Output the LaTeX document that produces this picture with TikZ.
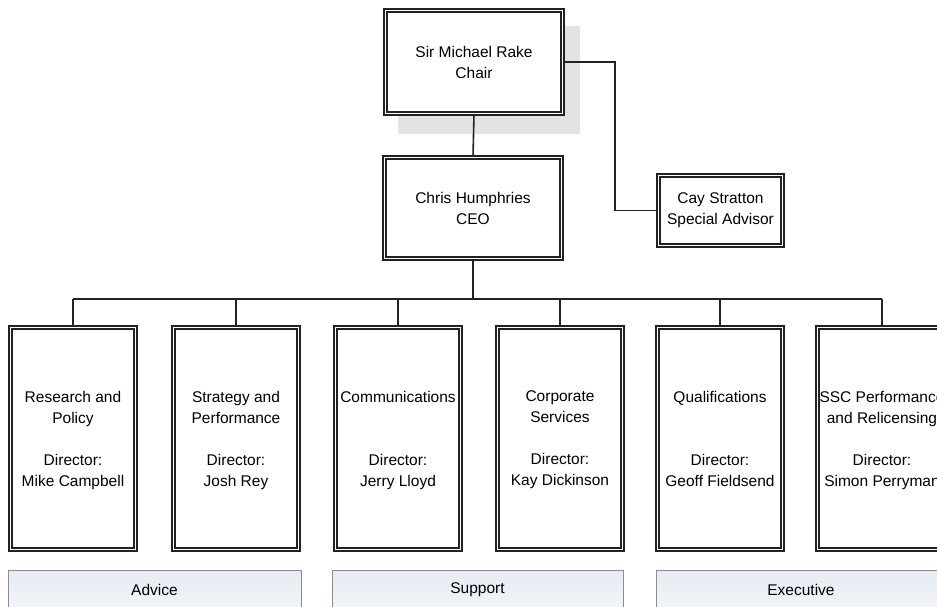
\documentclass[tikz,border=0pt]{standalone}
\usepackage{fontspec}
\setmainfont{Liberation Sans}
\usetikzlibrary{positioning}
\definecolor{linegray}{HTML}{222222}
\definecolor{bandfill}{HTML}{E6ECF3}
\definecolor{bandline}{HTML}{8C8C8C}
\begin{document}
\begin{tikzpicture}[x=1pt, y=-1pt,
    box/.style={draw=linegray, double=white, double distance=1.8pt, line width=1.5pt,
        fill=white, inner sep=2pt, align=center, font=\fontsize{15.5}{21}\selectfont},
    dept/.style={box, minimum width=125, minimum height=222},
    band/.style={draw=bandline, line width=0.9pt, top color=bandfill, bottom color=bandfill!55!white,
        minimum height=40, font=\fontsize{15.5}{21}\selectfont},
    link/.style={draw=linegray, line width=1.6pt}]
    \useasboundingbox (0,0) rectangle (937,607);
    \clip (0,0) rectangle (937,607);
    % Chair with shadow
    \fill[black!11] (398,26) rectangle (580,134);
    \node[box, minimum width=177, minimum height=103] (chair) at (474,62) {Sir Michael Rake\\Chair};
    % CEO and special advisor
    \node[box, minimum width=177, minimum height=101] (ceo) at (473,208) {Chris Humphries\\CEO};
    \node[box, minimum width=124, minimum height=70] (cay) at (720.5,210.5) {Cay Stratton\\Special Advisor};
    \draw[link] (chair.south) -- (ceo.north);
    \draw[link] (chair.east) -- ++(52,0) |- (cay.west);
    % Directorates
    \foreach \x/\name/\txt in {
        73/rp/{Research and\\Policy\\[21pt]Director:\\Mike Campbell},
        236/sp/{Strategy and\\Performance\\[21pt]Director:\\Josh Rey},
        398/com/{Communications\\[42pt]Director:\\Jerry Lloyd},
        560/cs/{Corporate\\Services\\[21pt]Director:\\Kay Dickinson},
        720/qual/{Qualifications\\[42pt]Director:\\Geoff Fieldsend},
        882/ssc/{SSC Performance\\and Relicensing\\[21pt]Director:\\Simon Perryman}} {
        \node[dept, text depth=0pt] (\name) at (\x,438.5) {\txt};
    }
    % Bus from CEO to directorates
    \draw[link] (ceo.south) -- ++(0,40) coordinate (bus);
    \draw[link] (rp.north |- bus) -- (ssc.north |- bus);
    \foreach \name in {rp,sp,com,cs,qual,ssc} {
        \draw[link] (\name.north) -- (\name.north |- bus);
    }
    % Groups
    \node[band, minimum width=293] (advice) at (154.5,590) {Advice};
    \node[band, minimum width=291] (support) at (477.5,590) {Support};
    \node[band, minimum width=290] (exec) at (801,590) {Executive};
\end{tikzpicture}
\end{document}
